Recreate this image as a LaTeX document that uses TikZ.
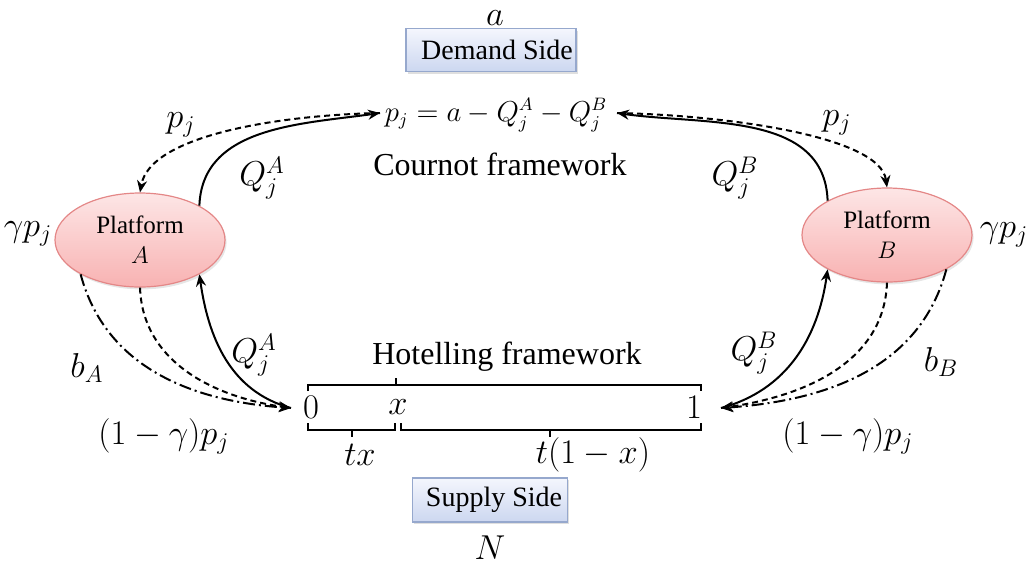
\documentclass[tikz,border=0pt]{standalone}
\usepackage{fontspec}
\setmainfont{Liberation Serif}
\usetikzlibrary{arrows.meta,shapes.geometric,shadows,calc}
\definecolor{pinkTop}{RGB}{253,230,230}
\definecolor{pinkBot}{RGB}{248,178,178}
\definecolor{pinkLine}{RGB}{228,135,135}
\definecolor{boxTop}{RGB}{244,246,253}
\definecolor{boxBot}{RGB}{204,215,240}
\definecolor{boxLine}{RGB}{150,168,205}
\begin{document}
\begin{tikzpicture}[x=0.5pt,y=-0.5pt,
  lbl/.style={font=\fontsize{17.5}{20}\selectfont, inner sep=0pt},
  frame/.style={font=\rmfamily\fontsize{16}{19}\selectfont, inner sep=0pt},
  sidebox/.style={draw=boxLine, line width=0.6pt, top color=boxTop, bottom color=boxBot,
    minimum height=21.5pt, inner sep=0pt, font=\rmfamily\fontsize{14}{16}\selectfont,
    drop shadow={shadow xshift=0.8pt, shadow yshift=-1.2pt, opacity=0.25}},
  platform/.style={ellipse, draw=pinkLine, line width=0.6pt, top color=pinkTop, bottom color=pinkBot,
    minimum width=85pt, minimum height=47pt, inner sep=0pt, align=center,
    font=\rmfamily\fontsize{12.5}{15}\selectfont,
    drop shadow={shadow xshift=0.8pt, shadow yshift=-1.2pt, opacity=0.2}},
  flow/.style={line width=1pt, -{Stealth[length=6pt,width=5pt]}},
  dashflow/.style={flow, dash pattern=on 3pt off 2pt},
  dotflow/.style={flow, dash pattern=on 6pt off 2pt on 1pt off 2pt},
  brace/.style={line width=0.9pt}
]
\useasboundingbox (0,0) rectangle (1028,564);

% top
\node[lbl] (a) at (495,18) {$a$};
\node[sidebox, minimum width=85pt] (demand) at (491,50) {\hspace*{6pt}Demand Side};
\node[lbl, font=\fontsize{13.5}{16}\selectfont] (eq) at (496,115) {$p_j = a - Q_j^A - Q_j^B$};
\node[frame] (cournot) at (500,164) {Cournot framework};

% platforms
\node[platform] (pA) at (140,240) {Platform\\$A$};
\node[platform] (pB) at (887,235) {Platform\\$B$};

\coordinate (cL) at (380,113);
\coordinate (cR) at (617,113);
\coordinate (hA) at (291,408);
\coordinate (hB) at (721,408);

% top connectors
\draw[flow] (pA.30) to[out=88,in=188] (cL);
\draw[dashflow] (cL) .. controls (280,115) and (150,135) .. (pA.north);
\draw[flow] (pB.150) to[out=92,in=-8] (cR);
\draw[dashflow] (cR) .. controls (720,115) and (880,135) .. (pB.north);

% bottom connectors A
\draw[flow] (hA) to[out=165,in=-82] (pA.-30);
\draw[dashflow] (pA.south) to[out=-88,in=172] (hA);
\draw[dotflow] (pA.210) to[out=-75,in=176] (hA);

% bottom connectors B
\draw[flow] (hB) to[out=15,in=-98] (pB.210);
\draw[dashflow] (pB.south) to[out=-92,in=8] (hB);
\draw[dotflow] (pB.-30) to[out=-105,in=4] (hB);

% labels top
\node[lbl] (pjL) at (181,125) {$p_j$};
\node[lbl] (pjR) at (837,123) {$p_j$};
\node[lbl] (QAt) at (262,178) {$Q_j^A$};
\node[lbl] (QBt) at (735,178) {$Q_j^B$};
\node[lbl] (gL) at (28,234) {$\gamma p_j$};
\node[lbl] (gR) at (1004,235) {$\gamma p_j$};

% labels bottom
\node[lbl] (QAb) at (254,355) {$Q_j^A$};
\node[lbl] (QBb) at (754,353) {$Q_j^B$};
\node[lbl] (bA) at (87,368) {$b_A$};
\node[lbl] (bB) at (941,362) {$b_B$};
\node[lbl] (gpL) at (164,436) {$(1-\gamma)p_j$};
\node[lbl] (gpR) at (848,436) {$(1-\gamma)p_j$};

% Hotelling
\node[frame] (hot) at (507,357) {Hotelling framework};
\draw[brace] (308,391) -- (308,385) -- (701,385) -- (701,391);
\draw[brace] (396,385) -- (396,378);
\node[lbl] (zero) at (311,407) {$0$};
\node[lbl] (xx) at (398,407) {$x$};
\node[lbl] (one) at (694,407) {$1$};
\draw[brace] (308,423) -- (308,430) -- (395,430) -- (395,423);
\draw[brace] (352,430) -- (352,437);
\draw[brace] (401,423) -- (401,430) -- (701,430) -- (701,423);
\draw[brace] (550,430) -- (550,437);
\node[lbl] (tx) at (360,455) {$tx$};
\node[lbl] (t1x) at (593,455) {$t(1-x)$};

% bottom
\node[sidebox, minimum width=77.5pt, minimum height=22pt] (supply) at (490,500) {\hspace*{4pt}Supply Side};
\node[lbl] (N) at (490,548) {$N$};
\end{tikzpicture}
\end{document}
